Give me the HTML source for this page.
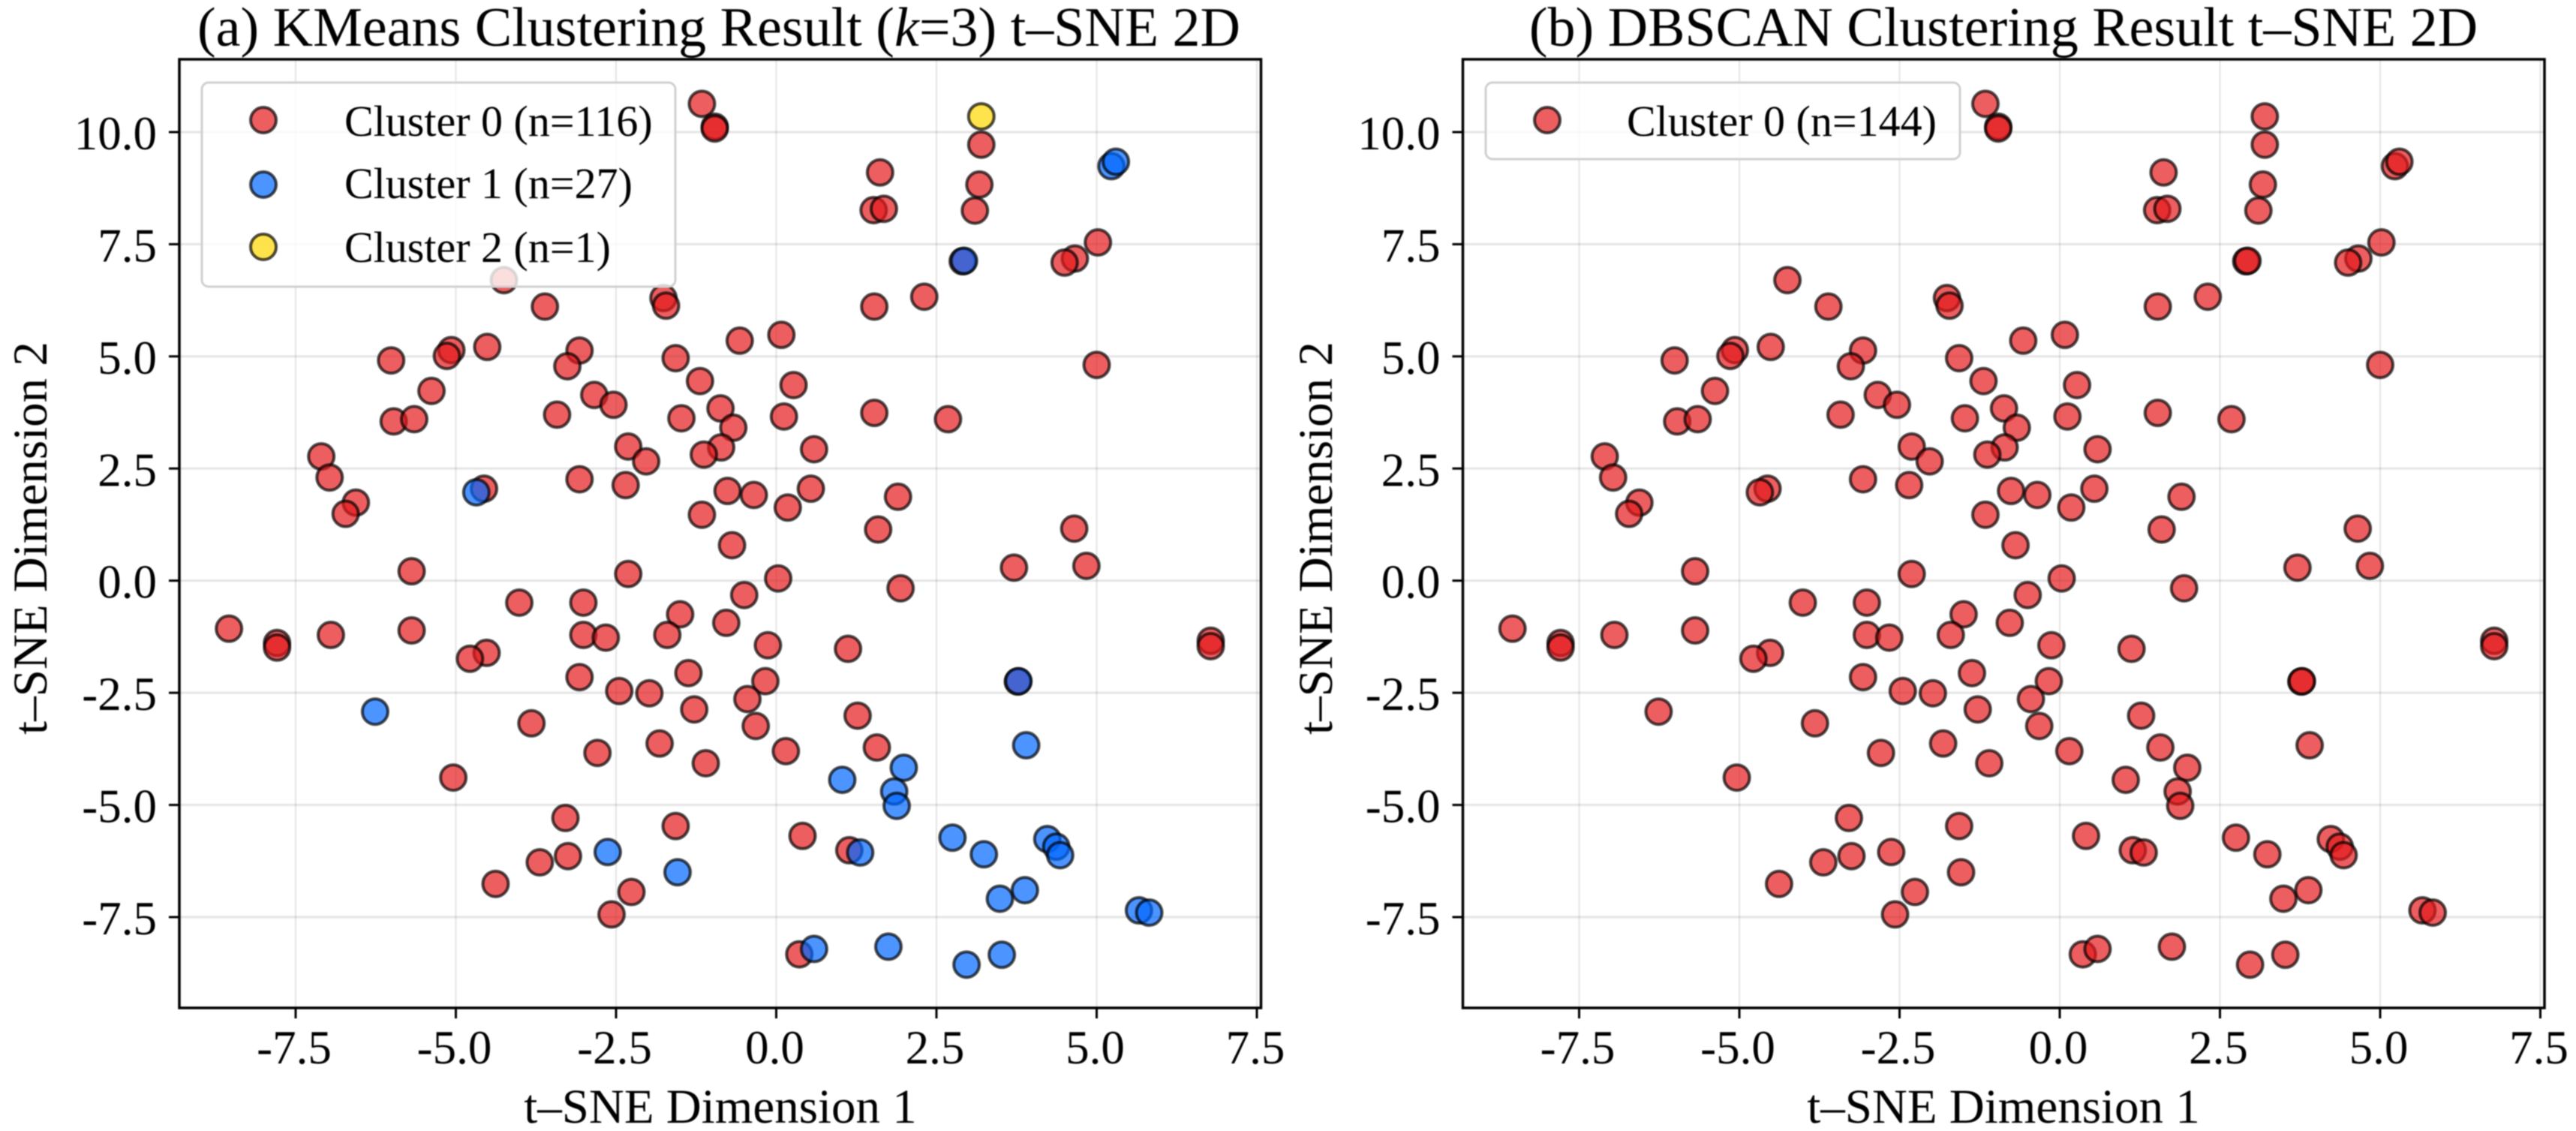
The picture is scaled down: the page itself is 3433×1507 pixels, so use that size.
<!DOCTYPE html>
<html lang="en">
<head>
<meta charset="utf-8">
<title>t-SNE clustering comparison</title>
<style>
html,body{margin:0;padding:0;background:#fff;}
#chart{display:block;width:3433px;height:1507px;font-family:"Liberation Serif","DejaVu Serif",serif;fill:#000;filter:blur(0.9px);}
</style>
</head>
<body>
<svg id="chart" xmlns="http://www.w3.org/2000/svg" width="3433" height="1507" viewBox="0 0 3433 1507">
  <rect x="0" y="0" width="3433" height="1507" fill="#fff"/>
  <g id="panel-a"></g>
  <g id="panel-b"></g>

  <text x="958" y="61" font-size="74" text-anchor="middle">(a) KMeans Clustering Result (<tspan font-style="italic">k</tspan>=3) t–SNE 2D</text>
  <text x="960" y="1496" font-size="65" text-anchor="middle">t–SNE Dimension 1</text>
  <text transform="translate(62,717) rotate(-90)" font-size="65" text-anchor="middle">t–SNE Dimension 2</text>

  <text x="2670" y="61" font-size="74" text-anchor="middle">(b) DBSCAN Clustering Result t–SNE 2D</text>
  <text x="2670" y="1496" font-size="65" text-anchor="middle">t–SNE Dimension 1</text>
  <text transform="translate(1775,717) rotate(-90)" font-size="65" text-anchor="middle">t–SNE Dimension 2</text>

  <g>
    <rect x="269" y="110" width="631" height="272" rx="9" fill="#fff" fill-opacity="0.8" stroke="#d0d0d0" stroke-width="3"/>
    <g>
      <circle cx="351" cy="160" r="17" fill="#e41a1c" fill-opacity="0.7" stroke="#000" stroke-opacity="0.7" stroke-width="4"/>
      <text x="459" y="181" font-size="58">Cluster 0 (n=116)</text>
    </g>
    <g>
      <circle cx="351" cy="246" r="17" fill="#0066ff" fill-opacity="0.7" stroke="#000" stroke-opacity="0.7" stroke-width="4"/>
      <text x="459" y="264" font-size="58">Cluster 1 (n=27)</text>
    </g>
    <g>
      <circle cx="351" cy="329" r="17" fill="#ffd700" fill-opacity="0.7" stroke="#000" stroke-opacity="0.7" stroke-width="4"/>
      <text x="459" y="349" font-size="58">Cluster 2 (n=1)</text>
    </g>
  </g>

  <g>
    <rect x="1980" y="110" width="632" height="102" rx="9" fill="#fff" fill-opacity="0.8" stroke="#d0d0d0" stroke-width="3"/>
    <g>
      <circle cx="2062" cy="160" r="17" fill="#e41a1c" fill-opacity="0.7" stroke="#000" stroke-opacity="0.7" stroke-width="4"/>
      <text x="2168" y="181" font-size="58">Cluster 0 (n=144)</text>
    </g>
  </g>
</svg>

<script>
const xTickValues = [-7.5, -5, -2.5, 0, 2.5, 5, 7.5];
const xTickLabels = ["-7.5", "-5.0", "-2.5", "0.0", "2.5", "5.0", "7.5"];
const yTickValues = [-7.5, -5, -2.5, 0, 2.5, 5, 7.5, 10];
const yTickLabels = ["-7.5", "-5.0", "-2.5", "0.0", "2.5", "5.0", "7.5", "10.0"];

const kmeansCluster0X = [
  -1.16,-0.96,-0.96,3.20,1.62,3.17,1.52,1.68,3.10,5.02,
  4.66,4.50,2.91,2.31,1.53,-4.25,-3.61,-1.76,-1.72,0.08,
  -0.57,-4.51,-5.07,-5.14,-6.01,-3.07,-3.26,-1.57,5.00,-1.19,
  0.27,-5.38,-2.84,-2.54,-5.97,-5.65,-3.42,-1.48,-0.87,-0.67,
  0.12,1.53,2.68,-0.86,-1.13,-2.31,-2.03,0.59,-7.10,-6.97,
  -6.56,-6.72,-4.56,-3.07,-2.35,-0.76,-0.35,0.54,1.90,0.18,
  -1.16,1.59,4.65,-0.69,-5.69,-2.31,0.03,3.71,4.84,-0.50,
  1.94,-4.01,-3.01,-1.50,-0.78,-8.54,-7.79,-7.79,-6.95,-5.69,
  -3.01,-2.66,-1.70,-0.13,1.12,-4.52,-4.78,6.78,6.78,-3.07,
  -1.37,-0.17,-2.45,-1.98,3.77,-0.45,-1.28,1.27,-3.82,-0.32,
  -1.82,1.57,-2.79,0.15,-1.10,-5.04,-3.29,-1.57,0.41,-3.25,
  -3.69,1.14,-4.38,-2.26,-2.57,0.36
];
const kmeansCluster0Y = [
  10.63,10.12,10.08,9.72,9.10,8.83,8.26,8.29,8.25,7.54,
  7.18,7.09,7.12,6.33,6.11,6.70,6.11,6.30,6.13,5.48,
  5.35,5.21,5.14,5.01,4.91,5.13,4.78,4.96,4.81,4.45,
  4.36,4.23,4.14,3.92,3.55,3.60,3.70,3.62,3.84,3.41,
  3.66,3.74,3.60,2.97,2.81,2.99,2.66,2.93,2.77,2.30,
  1.74,1.49,2.05,2.26,2.13,2.00,1.91,2.05,1.87,1.63,
  1.47,1.14,1.16,0.79,0.21,0.15,0.05,0.29,0.33,-0.32,
  -0.17,-0.49,-0.49,-0.75,-0.94,-1.07,-1.39,-1.49,-1.21,-1.11,
  -1.21,-1.27,-1.21,-1.44,-1.52,-1.61,-1.74,-1.34,-1.46,-2.15,
  -2.06,-2.24,-2.46,-2.51,-2.25,-2.64,-2.87,-3.01,-3.18,-3.24,
  -3.63,-3.72,-3.84,-3.80,-4.07,-4.39,-5.29,-5.47,-5.69,-6.14,
  -6.28,-6.01,-6.76,-6.94,-7.44,-8.33
];
const kmeansCluster1X = [
  5.23,5.30,2.93,-4.68,-6.26,3.78,3.90,1.99,1.03,1.84,
  1.88,2.75,3.24,4.23,4.37,4.43,-2.63,-1.54,1.31,3.88,
  3.49,5.66,5.82,0.59,1.75,2.97,3.52
];
const kmeansCluster1Y = [
  9.24,9.34,7.13,1.97,-2.92,-2.24,-3.67,-4.17,-4.44,-4.70,
  -5.02,-5.73,-6.10,-5.76,-5.93,-6.12,-6.05,-6.50,-6.06,-6.90,
  -7.09,-7.35,-7.40,-8.21,-8.16,-8.56,-8.34
];
const kmeansCluster2X = [3.20];
const kmeansCluster2Y = [10.35];

const dbscanCluster0X = [
  -1.16,-0.96,-0.96,3.20,1.62,3.17,1.52,1.68,3.10,5.02,
  4.66,4.50,2.91,2.31,1.53,-4.25,-3.61,-1.76,-1.72,0.08,
  -0.57,-4.51,-5.07,-5.14,-6.01,-3.07,-3.26,-1.57,5.00,-1.19,
  0.27,-5.38,-2.84,-2.54,-5.97,-5.65,-3.42,-1.48,-0.87,-0.67,
  0.12,1.53,2.68,-0.86,-1.13,-2.31,-2.03,0.59,-7.10,-6.97,
  -6.56,-6.72,-4.56,-3.07,-2.35,-0.76,-0.35,0.54,1.90,0.18,
  -1.16,1.59,4.65,-0.69,-5.69,-2.31,0.03,3.71,4.84,-0.50,
  1.94,-4.01,-3.01,-1.50,-0.78,-8.54,-7.79,-7.79,-6.95,-5.69,
  -3.01,-2.66,-1.70,-0.13,1.12,-4.52,-4.78,6.78,6.78,-3.07,
  -1.37,-0.17,-2.45,-1.98,3.77,-0.45,-1.28,1.27,-3.82,-0.32,
  -1.82,1.57,-2.79,0.15,-1.10,-5.04,-3.29,-1.57,0.41,-3.25,
  -3.69,1.14,-4.38,-2.26,-2.57,0.36,
  5.23,5.30,2.93,-4.68,-6.26,3.78,3.90,1.99,1.03,1.84,
  1.88,2.75,3.24,4.23,4.37,4.43,-2.63,-1.54,1.31,3.88,
  3.49,5.66,5.82,0.59,1.75,2.97,3.52,3.20
];
const dbscanCluster0Y = [
  10.63,10.12,10.08,9.72,9.10,8.83,8.26,8.29,8.25,7.54,
  7.18,7.09,7.12,6.33,6.11,6.70,6.11,6.30,6.13,5.48,
  5.35,5.21,5.14,5.01,4.91,5.13,4.78,4.96,4.81,4.45,
  4.36,4.23,4.14,3.92,3.55,3.60,3.70,3.62,3.84,3.41,
  3.66,3.74,3.60,2.97,2.81,2.99,2.66,2.93,2.77,2.30,
  1.74,1.49,2.05,2.26,2.13,2.00,1.91,2.05,1.87,1.63,
  1.47,1.14,1.16,0.79,0.21,0.15,0.05,0.29,0.33,-0.32,
  -0.17,-0.49,-0.49,-0.75,-0.94,-1.07,-1.39,-1.49,-1.21,-1.11,
  -1.21,-1.27,-1.21,-1.44,-1.52,-1.61,-1.74,-1.34,-1.46,-2.15,
  -2.06,-2.24,-2.46,-2.51,-2.25,-2.64,-2.87,-3.01,-3.18,-3.24,
  -3.63,-3.72,-3.84,-3.80,-4.07,-4.39,-5.29,-5.47,-5.69,-6.14,
  -6.28,-6.01,-6.76,-6.94,-7.44,-8.33,
  9.24,9.34,7.13,1.97,-2.92,-2.24,-3.67,-4.17,-4.44,-4.70,
  -5.02,-5.73,-6.10,-5.76,-5.93,-6.12,-6.05,-6.50,-6.06,-6.90,
  -7.09,-7.35,-7.40,-8.21,-8.16,-8.56,-8.34,10.35
];

const SVG_NS = 'http://www.w3.org/2000/svg';

function make(tag, attrs, parent) {
  const el = document.createElementNS(SVG_NS, tag);
  for (const k in attrs) el.setAttribute(k, attrs[k]);
  parent.appendChild(el);
  return el;
}

function yAxis(v) {
  return 773.7 - v * 59.77;
}

function xAxisFor(zeroX) {
  return function (v) {
    return zeroX + v * 85.4;
  };
}

function drawFrame(group, frame, xAxis) {
  xTickValues.forEach(function (v, i) {
    const px = xAxis(v);
    const grid = make('line', {x1: px, x2: px, y1: frame.top, y2: frame.bottom, stroke: '#000', 'stroke-opacity': 0.1, 'stroke-width': 2}, group);
    
    
    const tick = make('line', {x1: px, x2: px, y1: frame.bottom, y2: frame.bottom + 14, stroke: '#000', 'stroke-width': 3}, group);
    
    
    const label = make('text', {x: px - 2, y: 1417, 'font-size': 63, 'text-anchor': 'middle'}, group);
    
    
    label.textContent = xTickLabels[i];
  });
  yTickValues.forEach(function (v, i) {
    const py = yAxis(v);
    const grid = make('line', {x1: frame.left, x2: frame.right, y1: py, y2: py, stroke: '#000', 'stroke-opacity': 0.1, 'stroke-width': 3}, group);
    
    
    const tick = make('line', {x1: frame.left - 14, x2: frame.left, y1: py, y2: py, stroke: '#000', 'stroke-width': 3}, group);
    
    
    const label = make('text', {x: frame.left - 30, y: py + 23, 'font-size': 63, 'text-anchor': 'end'}, group);
    
    
    label.textContent = yTickLabels[i];
  });
  const spine = make('rect', {x: frame.left, y: frame.top, width: frame.right - frame.left, height: frame.bottom - frame.top, fill: 'none', stroke: '#000', 'stroke-width': 3.5}, group);
  
  
}

function drawSeries(group, xs, ys, color, xAxis, name) {
  xs.forEach(function (v, i) {
    const dot = make('circle', {cx: xAxis(v), cy: yAxis(ys[i]), r: 17, fill: color, 'fill-opacity': 0.7, stroke: '#000', 'stroke-opacity': 0.7, 'stroke-width': 4}, group);
    
    
  });
}

const panelA = document.getElementById('panel-a');
const panelB = document.getElementById('panel-b');
const axisA = xAxisFor(1034.5);
const axisB = xAxisFor(2745);

drawFrame(panelA, {left: 239, right: 1680.5, top: 79, bottom: 1343}, axisA);
drawSeries(panelA, kmeansCluster0X, kmeansCluster0Y, '#e41a1c', axisA, 'kmeans-cluster-0-point');
drawSeries(panelA, kmeansCluster1X, kmeansCluster1Y, '#0066ff', axisA, 'kmeans-cluster-1-point');
drawSeries(panelA, kmeansCluster2X, kmeansCluster2Y, '#ffd700', axisA, 'kmeans-cluster-2-point');

drawFrame(panelB, {left: 1949.5, right: 3391, top: 79, bottom: 1343}, axisB);
drawSeries(panelB, dbscanCluster0X, dbscanCluster0Y, '#e41a1c', axisB, 'dbscan-cluster-0-point');
</script>
</body>
</html>
